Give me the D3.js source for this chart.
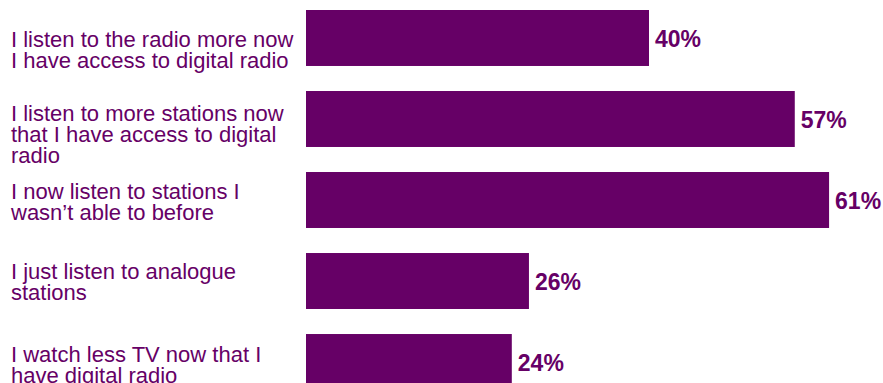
<!DOCTYPE html>
<html>
<head>
<meta charset="utf-8">
<script src="https://cdn.jsdelivr.net/npm/d3@7"></script>
<style>
  body { margin: 0; background: #fff; }
  svg { display: block; }
  .cat { font-family: "Liberation Sans", Arial, sans-serif; font-size: 22px; fill: #660066; }
  .val { font-family: "Liberation Sans", Arial, sans-serif; font-size: 23px; font-weight: bold; fill: #660066; }
</style>
</head>
<body>
<div id="barchart"></div>
<script>
// data
var categories = [
  "I listen to the radio more now|I have access to digital radio",
  "I listen to more stations now|that I have access to digital|radio",
  "I now listen to stations I|wasn\u2019t able to before",
  "I just listen to analogue|stations",
  "I watch less TV now that I|have digital radio"
];
var values = [40, 57, 61, 26, 24];

// layout tweaks (label block offset from bar centre)
var labelNudge = [12, 15, 1, 0, 2];

var width = 883, height = 383;

var svg = d3.select("#barchart")
  .append("svg")
    .attr("width", width)
    .attr("height", height);

var x = d3.scaleLinear()
  .domain([0, 100])
  .range([306, 306 + 857.5]);

var y = d3.scaleBand()
  .domain(categories)
  .range([10, 390])
  .paddingInner(0.309)
  .paddingOuter(0);

var rows = categories.map(function(c, i) { return {cat: c, val: values[i], nudge: labelNudge[i]}; });

// bars
svg.selectAll("rect.bar")
  .data(rows)
  .enter()
  .append("rect")
    .attr("class", "bar")
    .attr("x", x(0))
    .attr("y", function(d) { return y(d.cat); })
    .attr("width", function(d) { return x(d.val) - x(0); })
    .attr("height", y.bandwidth())
    .attr("fill", "#660066");

// value labels
svg.selectAll("text.val")
  .data(rows)
  .enter()
  .append("text")
    .attr("class", "val")
    .attr("x", function(d) { return x(d.val) + 6; })
    .attr("y", function(d) { return y(d.cat) + y.bandwidth() / 2 + 9; })
    .text(function(d) { return d.val + "%"; });

// category labels
var lineH = 21;
var cat = svg.selectAll("text.cat")
  .data(rows)
  .enter()
  .append("text")
    .attr("class", "cat")
    .attr("x", 11)
    .attr("y", function(d) {
      var n = d.cat.split("|").length;
      var mid = y(d.cat) + y.bandwidth() / 2 + d.nudge;
      return mid - (n - 1) * lineH / 2 + 8;
    });

cat.selectAll("tspan")
  .data(function(d) { return d.cat.split("|"); })
  .enter()
  .append("tspan")
    .attr("x", 11)
    .attr("dy", function(d, i) { return i === 0 ? 0 : lineH; })
    .text(function(d) { return d; });
</script>
</body>
</html>
